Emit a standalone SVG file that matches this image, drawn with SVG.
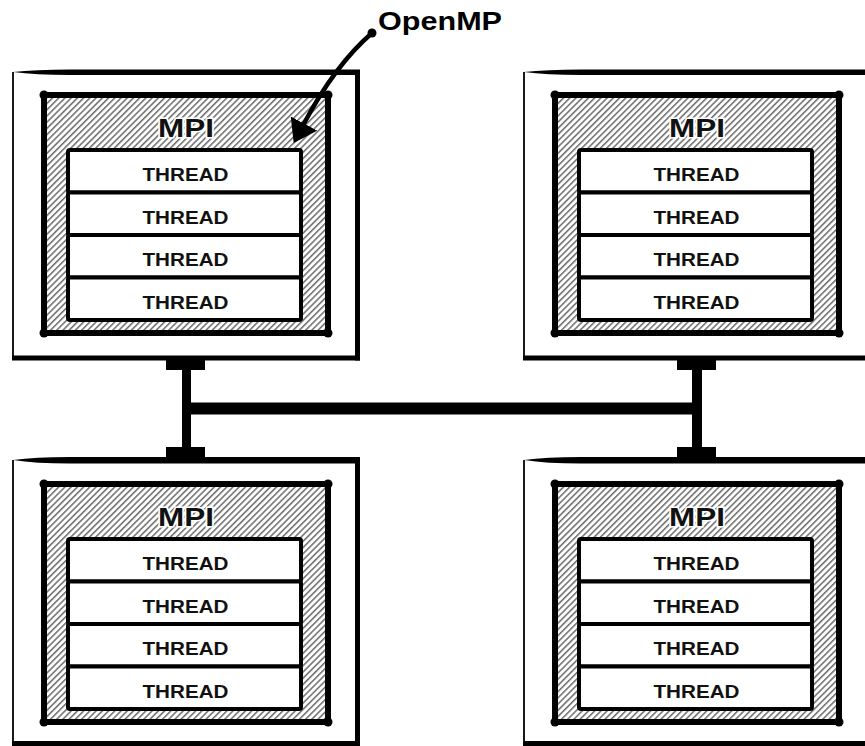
<svg xmlns="http://www.w3.org/2000/svg" width="865" height="746" viewBox="0 0 865 746">
  <defs>
    <pattern id="hatch" patternUnits="userSpaceOnUse" width="4.4" height="10" patternTransform="rotate(45)">
      <rect width="4.4" height="10" fill="#ffffff"/>
      <line x1="0.8" y1="0" x2="0.8" y2="10" stroke="#333333" stroke-width="1.1"/>
    </pattern>
    <marker id="arrowhead" markerUnits="userSpaceOnUse" viewBox="0 0 22 30" refX="0" refY="15" markerWidth="22" markerHeight="30" orient="auto">
      <path d="M0,0 L22,15 L0,30 z" fill="#000"/>
    </marker>
    <style>
      .edge-top { fill: #000; }
      .edge-thin { stroke: #000; stroke-width: 1.8; fill: none; }
      .edge-thick { stroke: #000; stroke-width: 5; fill: none; }
      .mpi { fill: url(#hatch); stroke: #000; stroke-width: 6; stroke-linejoin: round; }
      .blob { fill: #000; }
      .thread { fill: #fff; stroke: #000; stroke-width: 4; }
      .mpi-label { font-family: "Liberation Sans", Arial, sans-serif; font-weight: bold; font-size: 26px; fill: #111; stroke: #fff; stroke-width: 3; paint-order: stroke; text-anchor: middle; }
      .thread-label { font-family: "Liberation Sans", Arial, sans-serif; font-weight: bold; font-size: 19px; fill: #111; text-anchor: middle; }
      .note { font-family: "Liberation Sans", Arial, sans-serif; font-weight: bold; font-size: 25px; fill: #000; }
      .bar { fill: #000; }
    </style>
    <g id="inner">
      <rect class="mpi" x="44" y="95" width="284" height="238"/>
      <circle class="blob" cx="44" cy="95" r="4.5"/>
      <circle class="blob" cx="328" cy="95" r="4.5"/>
      <circle class="blob" cx="44" cy="333" r="4.5"/>
      <circle class="blob" cx="328" cy="333" r="4.5"/>
      <text class="mpi-label" x="186" y="137" textLength="56" lengthAdjust="spacingAndGlyphs">MPI</text>
      <rect class="thread" x="68" y="150" width="233" height="42.5" rx="2"/>
      <rect class="thread" x="68" y="192.5" width="233" height="42.5" rx="2"/>
      <rect class="thread" x="68" y="235" width="233" height="42.5" rx="2"/>
      <rect class="thread" x="68" y="277.5" width="233" height="42.5" rx="2"/>
      <text class="thread-label" x="185.5" y="181" textLength="86" lengthAdjust="spacingAndGlyphs">THREAD</text>
      <text class="thread-label" x="185.5" y="223.5" textLength="86" lengthAdjust="spacingAndGlyphs">THREAD</text>
      <text class="thread-label" x="185.5" y="266" textLength="86" lengthAdjust="spacingAndGlyphs">THREAD</text>
      <text class="thread-label" x="185.5" y="308.5" textLength="86" lengthAdjust="spacingAndGlyphs">THREAD</text>
    </g>
  </defs>
  <rect width="865" height="746" fill="#fff"/>

  <g id="node-top-left">
    <path class="edge-top" d="M13,72 Q35,69.5 70,69.5 L360,69.5 L360,75 L70,75 Q35,75 13,72 Z"/>
    <line class="edge-thin" x1="13" y1="72" x2="13" y2="358"/>
    <line class="edge-thick" x1="357.5" y1="70" x2="357.5" y2="360.5"/>
    <line class="edge-thick" x1="12" y1="358" x2="360" y2="358"/>
    <use href="#inner"/>
  </g>

  <g id="node-top-right" transform="translate(511,0)">
    <path class="edge-top" d="M13,72 Q35,69.5 70,69.5 L360,69.5 L360,75 L70,75 Q35,75 13,72 Z"/>
    <line class="edge-thin" x1="13" y1="72" x2="13" y2="358"/>
    <line class="edge-thick" x1="357.5" y1="70" x2="357.5" y2="360.5"/>
    <line class="edge-thick" x1="12" y1="358" x2="360" y2="358"/>
    <use href="#inner"/>
  </g>

  <g id="node-bottom-left" transform="translate(0,389)">
    <path class="edge-top" d="M13,71 Q35,68 70,68 L360,68 L360,74.5 L70,74.5 Q35,74.5 13,71 Z"/>
    <line class="edge-thin" x1="13" y1="71" x2="13" y2="354.5"/>
    <line class="edge-thick" x1="357.5" y1="68" x2="357.5" y2="357"/>
    <line class="edge-thick" x1="12" y1="354.5" x2="360" y2="354.5"/>
    <use href="#inner"/>
  </g>

  <g id="node-bottom-right" transform="translate(511,389)">
    <path class="edge-top" d="M13,71 Q35,68 70,68 L360,68 L360,74.5 L70,74.5 Q35,74.5 13,71 Z"/>
    <line class="edge-thin" x1="13" y1="71" x2="13" y2="354.5"/>
    <line class="edge-thick" x1="357.5" y1="68" x2="357.5" y2="357"/>
    <line class="edge-thick" x1="12" y1="354.5" x2="360" y2="354.5"/>
    <use href="#inner"/>
  </g>

  <g id="label-openmp">
    <text class="note" x="378" y="30" textLength="124" lengthAdjust="spacingAndGlyphs">OpenMP</text>
  </g>

  <g id="connectors">
    <path class="bar" d="M166,360 H205 V370 H191 V447 H205 V457 H166 V447 H182 V370 H166 Z"/>
    <path class="bar" d="M677,360 H716 V370 H702 V447 H716 V457 H677 V447 H692 V370 H677 Z"/>
    <rect class="bar" x="186" y="402.5" width="511" height="12"/>
    <path d="M372,33 Q335,65 304,123.5" fill="none" stroke="#000" stroke-width="4.5" stroke-linecap="round" marker-end="url(#arrowhead)"/>
    <circle cx="372" cy="33" r="4.5" fill="#000"/>
  </g>
</svg>
